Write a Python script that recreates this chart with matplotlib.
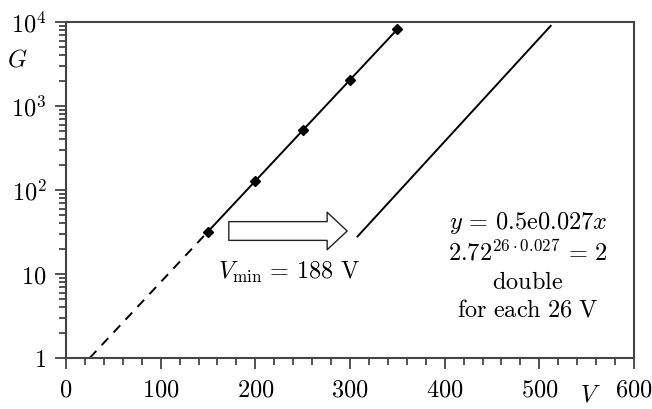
import numpy as np
import matplotlib
matplotlib.use('Agg')
import matplotlib.pyplot as plt
from matplotlib.ticker import FixedLocator, FuncFormatter, MultipleLocator

from matplotlib import rcParams
rcParams.update({'mathtext.fontset': 'cm', 'font.size': 17.5})

# measured points
V_pts = [150, 200, 250, 300, 350]
G_pts = [32, 128, 512, 2048, 8192]
# dashed extrapolation down to G = 1
V_ext = [25, 150]
G_ext = [1, 32]
# same line shifted to the right
V_shift = [308, 512]
G_shift = [28, 9000]

x_ticks = [0, 100, 200, 300, 400, 500, 600]
y_ticks = [1, 10, 100, 1000, 10000]
y_labels = [r'$1$', r'$10$', r'$10^2$', r'$10^3$', r'$10^4$']

fig = plt.figure(figsize=(6.52, 4.09), dpi=100)
ax = fig.add_axes([0.1012, 0.1247, 0.8712, 0.8215])

ax.plot(V_ext, G_ext, '--', color='k', lw=1.4, dashes=(5, 4))
ax.plot(V_pts, G_pts, '-', color='k', lw=1.4, marker='D', markersize=5)
ax.plot(V_shift, G_shift, '-', color='k', lw=1.4)

ax.annotate('', xy=(297, 32.5), xytext=(172, 32.5),
            arrowprops=dict(arrowstyle='simple,head_length=1.44,head_width=2.7,tail_width=1.35',
                            fc='white', ec='#222222', lw=1, shrinkA=0, shrinkB=0,
                            mutation_scale=10))

ax.set_yscale('log')
ax.set_xlim(0, 600)
ax.set_ylim(1, 10000)

ax.xaxis.set_major_locator(FixedLocator(x_ticks))
ax.xaxis.set_minor_locator(MultipleLocator(20))
ax.set_xticklabels([r'$%d$' % t for t in x_ticks])
ax.yaxis.set_major_locator(FixedLocator(y_ticks))
ax.set_yticklabels(y_labels)

ax.tick_params(which='both', direction='out', color='#333333', width=1.2,
               top=False, right=False)
ax.tick_params(which='major', length=8, pad=6)
ax.tick_params(which='minor', length=5)
for s in ax.spines.values():
    s.set_color('#444444')
    s.set_linewidth(1.5)

ax.text(-0.085, 0.887, r'$G$', transform=ax.transAxes, ha='center', va='center')
ax.text(0.9225, -0.108, r'$V$', transform=ax.transAxes, ha='center', va='center')

ax.text(0.393, 0.256, r'$V_{\mathrm{min}}\,=\,188\ \mathrm{V}$', transform=ax.transAxes,
        ha='center', va='center')
ax.text(0.813, 0.402, r'$y\,=\,0.5\mathrm{e}0.027x$', transform=ax.transAxes, ha='center', va='center')
ax.text(0.813, 0.315, r'$2.72^{26\cdot0.027}\,=\,2$', transform=ax.transAxes, ha='center', va='center')
ax.text(0.813, 0.226, r'$\mathrm{double}$', transform=ax.transAxes, ha='center', va='center')
ax.text(0.813, 0.143, r'$\mathrm{for\ each\ 26\ V}$', transform=ax.transAxes, ha='center', va='center')

fig.savefig('out.png', dpi=100)
